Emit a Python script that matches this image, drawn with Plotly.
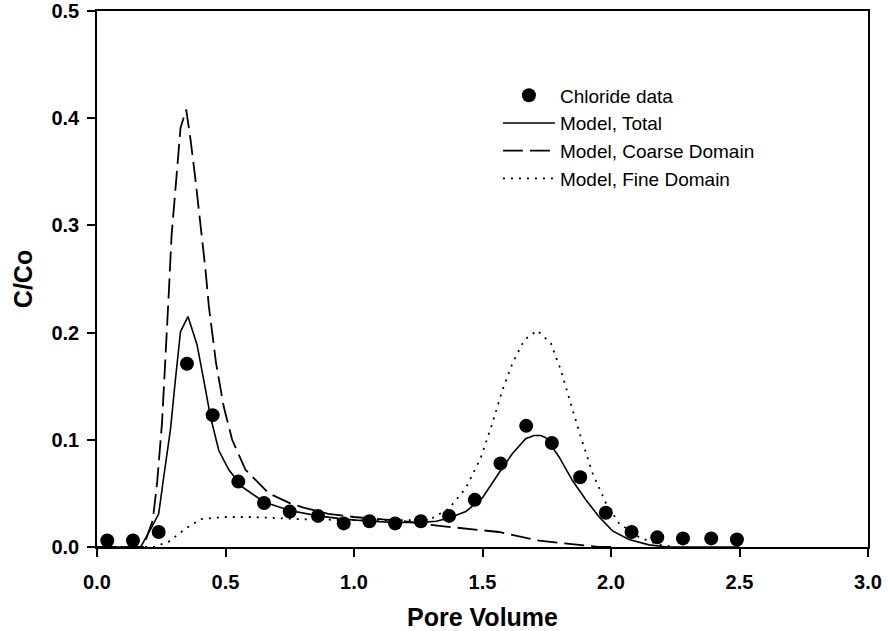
import plotly.graph_objects as go

# Chloride data (points)
pv_data = [0.04, 0.14, 0.24, 0.35, 0.45, 0.55, 0.65, 0.75, 0.86, 0.96, 1.06, 1.16, 1.26,
           1.37, 1.47, 1.57, 1.67, 1.77, 1.88, 1.98, 2.08, 2.18, 2.28, 2.39, 2.49]
c_data = [0.006, 0.006, 0.014, 0.171, 0.123, 0.061, 0.041, 0.033, 0.029, 0.022, 0.024, 0.022, 0.024,
          0.029, 0.044, 0.078, 0.113, 0.097, 0.065, 0.032, 0.014, 0.009, 0.008, 0.008, 0.007]

# Model, Total
pv_tot = [0, 0.17, 0.214, 0.24, 0.26, 0.286, 0.305, 0.325, 0.354, 0.389, 0.416, 0.442, 0.474,
          0.513, 0.565, 0.65, 0.75, 0.86, 0.96, 1.06, 1.16, 1.26, 1.32, 1.37, 1.435, 1.50, 1.564,
          1.616, 1.668, 1.70, 1.727, 1.746, 1.798, 1.85, 1.902, 1.954, 2.006, 2.07, 2.148, 2.22, 2.5]
c_tot = [0, 0, 0.019, 0.031, 0.066, 0.110, 0.156, 0.201, 0.215, 0.189, 0.155, 0.121, 0.090,
         0.072, 0.056, 0.042, 0.034, 0.029, 0.026, 0.024, 0.023, 0.023, 0.024, 0.027, 0.033, 0.046, 0.069,
         0.087, 0.101, 0.104, 0.104, 0.102, 0.084, 0.062, 0.044, 0.028, 0.015, 0.007, 0.002, 0, 0]

# Model, Coarse Domain
pv_coarse = [0, 0.18, 0.217, 0.234, 0.253, 0.266, 0.279, 0.290, 0.305, 0.316, 0.325, 0.347, 0.364,
             0.383, 0.403, 0.422, 0.435, 0.463, 0.493, 0.526, 0.578, 0.669, 0.75, 0.80, 0.9, 1.0,
             1.1, 1.2, 1.28, 1.4, 1.564, 1.72, 1.877, 1.95, 2.0]
c_coarse = [0, 0, 0.025, 0.060, 0.116, 0.172, 0.235, 0.290, 0.334, 0.371, 0.391, 0.408, 0.380,
            0.343, 0.302, 0.259, 0.225, 0.172, 0.131, 0.100, 0.072, 0.050, 0.041, 0.037, 0.031, 0.028,
            0.026, 0.024, 0.021, 0.018, 0.014, 0.006, 0.002, 0.0, 0]

# Model, Fine Domain
pv_fine = [0, 0.22, 0.279, 0.344, 0.403, 0.5, 0.6, 0.785, 1.0, 1.2, 1.292, 1.37, 1.435, 1.493,
           1.538, 1.577, 1.616, 1.662, 1.713, 1.766, 1.805, 1.843, 1.882, 1.928, 1.98, 2.032,
           2.11, 2.187, 2.25]
c_fine = [0, 0, 0.005, 0.017, 0.026, 0.028, 0.028, 0.026, 0.025, 0.025, 0.025, 0.036, 0.055, 0.083,
          0.115, 0.146, 0.171, 0.193, 0.202, 0.190, 0.165, 0.134, 0.103, 0.069, 0.041, 0.022,
          0.009, 0.002, 0]

x_ticks = [0.0, 0.5, 1.0, 1.5, 2.0, 2.5, 3.0]
y_ticks = [0.0, 0.1, 0.2, 0.3, 0.4, 0.5]

FONT = "Liberation Sans, Arial, sans-serif"

fig = go.Figure()
fig.add_trace(go.Scatter(x=pv_data, y=c_data, mode="markers", name="Chloride data",
                         marker=dict(color="black", size=14, symbol="circle")))
fig.add_trace(go.Scatter(x=pv_tot, y=c_tot, mode="lines", name="Model, Total",
                         line=dict(color="black", width=1.6)))
fig.add_trace(go.Scatter(x=pv_coarse, y=c_coarse, mode="lines", name="Model, Coarse Domain",
                         line=dict(color="black", width=1.8, dash="20px,7px")))
fig.add_trace(go.Scatter(x=pv_fine, y=c_fine, mode="lines", name="Model, Fine Domain",
                         line=dict(color="black", width=1.8, dash="2px,6px")))

axis_common = dict(showline=True, linecolor="black", linewidth=1.5, mirror=True,
                   ticks="outside", ticklen=8, tickwidth=1.5, tickcolor="black",
                   showgrid=False, zeroline=False, automargin=False,
                   tickfont=dict(family=FONT, size=20, color="black"))

fig.update_xaxes(range=[0, 3.0], tickvals=x_ticks, ticktext=[f"<b>{v:.1f}</b>" for v in x_ticks],
                 title=dict(text="<b>Pore Volume</b>", font=dict(family=FONT, size=25, color="black"),
                            standoff=17),
                 ticklabelstandoff=8, **axis_common)
fig.update_yaxes(range=[0, 0.5], tickvals=y_ticks, ticktext=[f"<b>{v:.1f}</b>" for v in y_ticks],
                 title=dict(text="<b>C/Co</b>", font=dict(family=FONT, size=25, color="black"),
                            standoff=12),
                 ticklabelstandoff=4, **axis_common)

fig.update_layout(
    template="none",
    width=888, height=631,
    margin=dict(l=97, r=20, t=11, b=84, pad=0),
    paper_bgcolor="white", plot_bgcolor="white",
    showlegend=True,
    legend=dict(x=0.52, y=0.878, xanchor="left", yanchor="top",
                font=dict(family=FONT, size=19, color="black"),
                bgcolor="rgba(0,0,0,0)", itemwidth=52, tracegroupgap=0),
)

fig.write_html("out.html", config={"displayModeBar": False},
               post_script="document.body.style.margin='0';document.body.style.overflow='hidden';")
